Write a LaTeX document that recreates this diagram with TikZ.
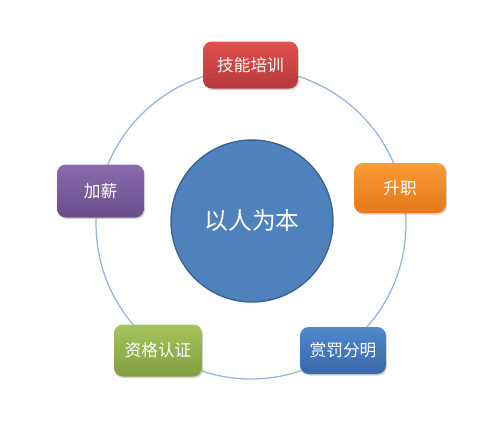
\documentclass[tikz,border=0pt]{standalone}
\usepackage{fontspec}
\newfontfamily\cjk{Noto Sans CJK SC}
\usetikzlibrary{shadows}
\definecolor{ringblue}{HTML}{95B3D7}
\definecolor{hubfill}{HTML}{4F81BD}
\definecolor{hubline}{HTML}{3A6396}
\definecolor{redtop}{HTML}{E0504D}
\definecolor{redbot}{HTML}{B5393A}
\definecolor{orgtop}{HTML}{FA9B33}
\definecolor{orgbot}{HTML}{E4781C}
\definecolor{blutop}{HTML}{5088CC}
\definecolor{blubot}{HTML}{3A68AA}
\definecolor{grntop}{HTML}{A4C45E}
\definecolor{grnbot}{HTML}{819F3F}
\definecolor{purtop}{HTML}{8A6BAE}
\definecolor{purbot}{HTML}{6A4E8C}
\tikzset{
  tag/.style={rounded corners=5pt,minimum width=#1,minimum height=0.94cm,
    text=white,font=\cjk\fontsize{9.5}{11}\selectfont,
    drop shadow={shadow xshift=0.6pt,shadow yshift=-0.9pt,opacity=0.35}},
  ring/.style={ringblue,line width=0.7pt},
}

\begin{document}
\begin{tikzpicture}[x=0.02cm,y=-0.02cm]
\useasboundingbox (0,0) rectangle (500,430);
\coordinate (ctr) at (251,224);
\draw[ring] (ctr) circle[radius=3.1cm];
\node[circle,fill=hubfill,draw=hubline,line width=0.8pt,minimum size=3.24cm,
  text=white,font=\cjk\fontsize{13.5}{16}\selectfont] (hub) at (252,221) {以人为本};
\node[tag=1.9cm,top color=redtop,bottom color=redbot] (train) at (250.5,65) {技能培训};
\node[tag=1.84cm,top color=orgtop,bottom color=orgbot,minimum height=1cm] (promo) at (400,188) {升职};
\node[tag=1.72cm,top color=blutop,bottom color=blubot] (merit) at (343,350.5) {赏罚分明};
\node[tag=1.76cm,top color=grntop,bottom color=grnbot,minimum height=1.04cm] (cert) at (158,350.5) {资格认证};
\node[tag=1.74cm,top color=purtop,bottom color=purbot,minimum height=1.06cm] (raise) at (100.5,191) {加薪};
\end{tikzpicture}
\end{document}
